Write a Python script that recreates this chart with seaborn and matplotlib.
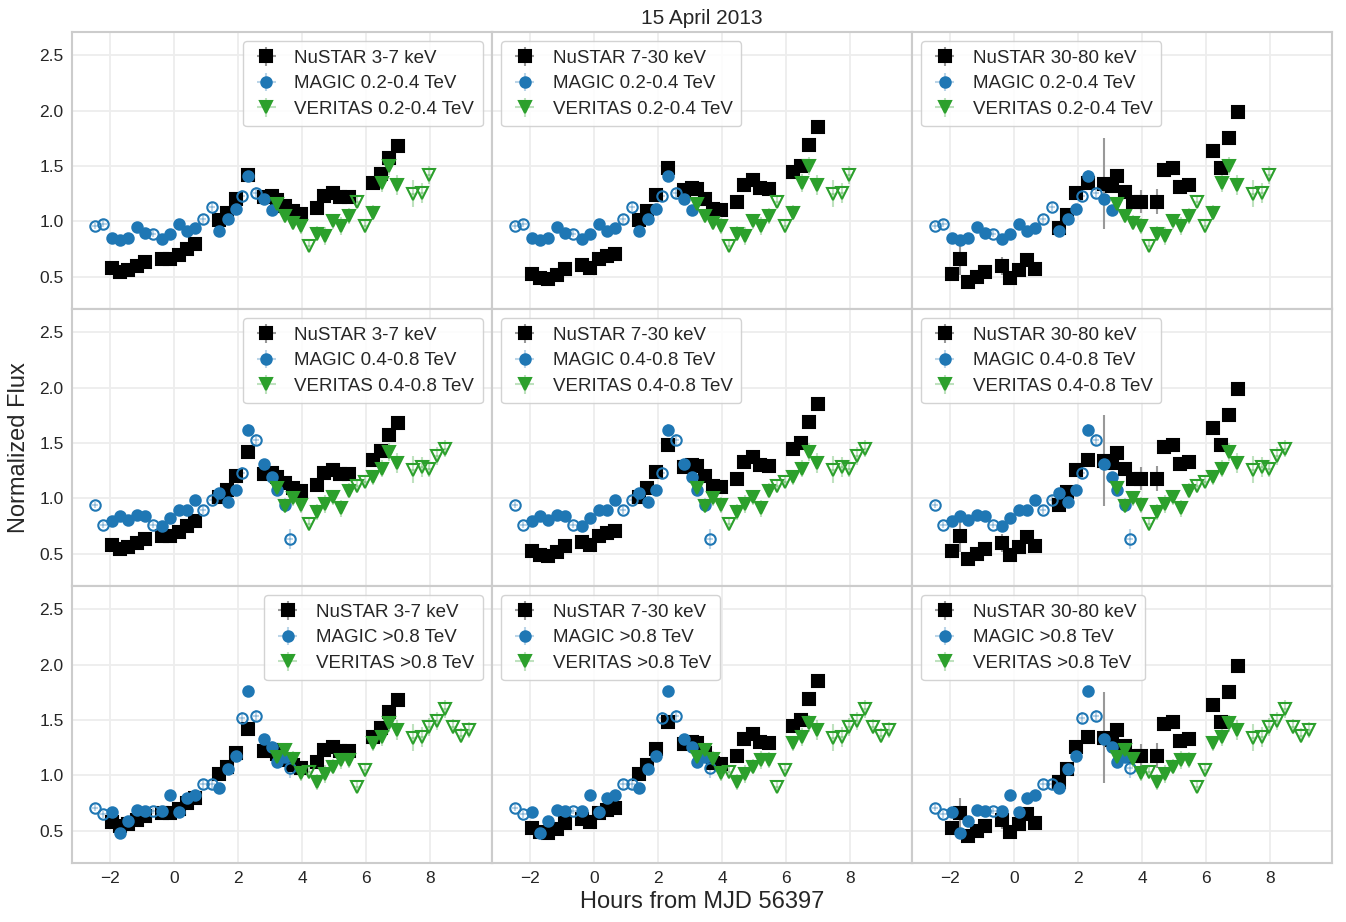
import matplotlib
matplotlib.use("Agg")
import matplotlib.pyplot as plt
import seaborn as sns
from matplotlib.colors import to_rgba

# ---- data (hours from MJD 56397, normalized flux) ----
nustar_t = [-1.95, -1.69, -1.43, -1.17, -0.91, -0.39, -0.13, 0.14, 0.40, 0.66,
            1.41, 1.67, 1.93, 2.32, 2.82, 3.05, 3.21, 3.47, 3.71, 3.97,
            4.46, 4.70, 4.98, 5.19, 5.48, 6.21, 6.47, 6.73, 6.99]
nustar_3_7 = [0.58, 0.54, 0.56, 0.60, 0.63, 0.66, 0.66, 0.70, 0.75, 0.80,
              1.01, 1.08, 1.20, 1.42, 1.22, 1.23, 1.19, 1.14, 1.09, 1.07,
              1.12, 1.23, 1.26, 1.22, 1.22, 1.35, 1.43, 1.57, 1.68]
nustar_7_30 = [0.53, 0.49, 0.48, 0.52, 0.57, 0.61, 0.58, 0.66, 0.69, 0.71,
               1.01, 1.09, 1.24, 1.48, 1.28, 1.30, 1.29, 1.20, 1.11, 1.10,
               1.18, 1.33, 1.37, 1.30, 1.29, 1.45, 1.50, 1.69, 1.85]
nustar_30_80 = [0.53, 0.66, 0.45, 0.50, 0.54, 0.60, 0.49, 0.56, 0.65, 0.57,
                0.94, 1.06, 1.26, 1.35, 1.34, 1.32, 1.41, 1.27, 1.18, 1.18,
                1.18, 1.46, 1.48, 1.31, 1.33, 1.64, 1.48, 1.75, 1.99]
nustar_err_3_7 = [0.02, 0.02, 0.02, 0.02, 0.02, 0.02, 0.02, 0.02, 0.02, 0.02,
                  0.02, 0.02, 0.02, 0.02, 0.02, 0.02, 0.02, 0.02, 0.02, 0.02,
                  0.02, 0.02, 0.02, 0.02, 0.02, 0.02, 0.02, 0.02, 0.02]
nustar_err_7_30 = [0.03, 0.03, 0.03, 0.03, 0.03, 0.03, 0.03, 0.03, 0.03, 0.03,
                   0.03, 0.03, 0.03, 0.03, 0.03, 0.03, 0.03, 0.03, 0.03, 0.03,
                   0.03, 0.03, 0.03, 0.03, 0.03, 0.03, 0.03, 0.03, 0.03]
nustar_err_30_80 = [0.06, 0.14, 0.06, 0.06, 0.06, 0.08, 0.06, 0.06, 0.06, 0.06,
                    0.05, 0.05, 0.05, 0.05, 0.41, 0.06, 0.06, 0.06, 0.06, 0.10,
                    0.11, 0.06, 0.05, 0.05, 0.05, 0.06, 0.06, 0.05, 0.04]

magic_t = [-2.47, -2.21, -1.95, -1.69, -1.43, -1.17, -0.91, -0.67, -0.39, -0.13,
           0.14, 0.40, 0.66, 0.90, 1.18, 1.42, 1.68, 1.93, 2.13, 2.32,
           2.57, 2.82, 3.07, 3.22, 3.47, 3.61]
magic_open = [1, 1, 0, 0, 0, 0, 0, 1, 0, 0,
              0, 0, 0, 1, 1, 0, 0, 0, 1, 0,
              1, 0, 0, 0, 0, 1]
magic_02_04 = [0.96, 0.98, 0.85, 0.83, 0.85, 0.95, 0.90, 0.89, 0.84, 0.89,
               0.98, 0.91, 0.94, 1.02, 1.13, 0.91, 1.02, 1.11, 1.23, 1.41,
               1.26, 1.20, 1.10]
magic_04_08 = [0.94, 0.76, 0.80, 0.84, 0.81, 0.85, 0.84, 0.76, 0.75, 0.82,
               0.90, 0.90, 0.99, 0.90, 0.99, 1.05, 0.97, 1.08, 1.23, 1.62,
               1.53, 1.31, 1.19, 1.08, 0.94, 0.63]
magic_08 = [0.71, 0.65, 0.67, 0.48, 0.59, 0.69, 0.68, 0.68, 0.68, 0.82,
            0.67, 0.80, 0.82, 0.92, 0.92, 0.89, 1.06, 1.18, 1.52, 1.76,
            1.54, 1.33, 1.26, 1.12, 1.17, 1.07]
magic_err = [0.03, 0.03, 0.03, 0.03, 0.03, 0.03, 0.03, 0.03, 0.03, 0.03,
             0.03, 0.03, 0.03, 0.04, 0.04, 0.03, 0.04, 0.04, 0.05, 0.05,
             0.05, 0.04, 0.05, 0.05, 0.06, 0.09]

veritas_t = [3.23, 3.47, 3.73, 3.97, 4.22, 4.48, 4.73, 4.98, 5.23, 5.48,
             5.73, 5.98, 6.23, 6.49, 6.73, 6.96, 7.48, 7.74, 7.98, 8.21,
             8.47, 8.73, 8.98, 9.23]
veritas_open = [0, 0, 0, 0, 1, 0, 0, 0, 0, 0,
                1, 1, 0, 0, 0, 0, 1, 1, 1, 1,
                1, 1, 1, 1]
veritas_02_04 = [1.16, 1.05, 0.99, 0.96, 0.78, 0.89, 0.87, 1.00, 0.96, 1.05,
                 1.18, 0.96, 1.08, 1.35, 1.50, 1.33, 1.25, 1.26, 1.42]
veritas_04_08 = [1.09, 0.93, 1.00, 0.94, 0.77, 0.88, 0.95, 1.01, 0.91, 1.07,
                 1.11, 1.15, 1.19, 1.27, 1.42, 1.32, 1.26, 1.28, 1.27, 1.38,
                 1.45]
veritas_08 = [1.17, 1.23, 1.15, 1.02, 1.03, 0.94, 1.01, 1.08, 1.14, 1.14,
              0.90, 1.05, 1.29, 1.35, 1.47, 1.41, 1.34, 1.35, 1.44, 1.49,
              1.60, 1.44, 1.36, 1.41]
veritas_err = [0.06, 0.06, 0.07, 0.07, 0.06, 0.07, 0.08, 0.07, 0.08, 0.07,
               0.06, 0.06, 0.07, 0.08, 0.08, 0.09, 0.12, 0.09, 0.08, 0.08,
               0.08, 0.07, 0.07, 0.07]

nustar_bands = ["3-7 keV", "7-30 keV", "30-80 keV"]
nustar_series = [nustar_3_7, nustar_7_30, nustar_30_80]
nustar_errs = [nustar_err_3_7, nustar_err_7_30, nustar_err_30_80]
tev_bands = ["0.2-0.4 TeV", "0.4-0.8 TeV", ">0.8 TeV"]
magic_series = [magic_02_04, magic_04_08, magic_08]
veritas_series = [veritas_02_04, veritas_04_08, veritas_08]

BLUE = "#1f77b4"
GREEN = "#2ca02c"

sns.set_theme(style="whitegrid")
plt.rcParams["font.family"] = ["Liberation Sans", "DejaVu Sans"]
plt.rcParams["axes.edgecolor"] = "0.8"
plt.rcParams["axes.linewidth"] = 1.5


def draw_set(ax, t, y, err, opened, color, ecolor, marker, ms, label):
    n = len(y)
    t, err, opened = t[:n], err[:n], opened[:n]
    groups = [(0, color, label), (1, "none", None)]
    for flag, face, lab in groups:
        idx = [i for i in range(n) if opened[i] == flag]
        if not idx:
            continue
        ax.errorbar([t[i] for i in idx], [y[i] for i in idx],
                    yerr=[err[i] for i in idx], xerr=0.1,
                    fmt=marker, ms=ms, color=color, mfc=face, mec=color,
                    mew=1.5, ecolor=ecolor, elinewidth=1.5, capsize=0,
                    label=lab)


fig, axes = plt.subplots(3, 3, figsize=(13.46, 9.22), dpi=100,
                         sharex=True, sharey=True)
fig.subplots_adjust(left=0.0535, right=0.9896, top=0.9653, bottom=0.064,
                    wspace=0, hspace=0)

for r in range(3):
    for c in range(3):
        ax = axes[r, c]
        draw_set(ax, nustar_t, nustar_series[c], nustar_errs[c],
                 [0] * len(nustar_t), "black", "0.6", "s", 8,
                 f"NuSTAR {nustar_bands[c]}")
        draw_set(ax, magic_t, magic_series[r], magic_err, magic_open,
                 BLUE, to_rgba(BLUE, 0.3), "o", 7.5, f"MAGIC {tev_bands[r]}")
        draw_set(ax, veritas_t, veritas_series[r], veritas_err, veritas_open,
                 GREEN, to_rgba(GREEN, 0.3), "v", 8, f"VERITAS {tev_bands[r]}")
        ax.set_xlim(-3.19, 9.94)
        ax.set_ylim(0.21, 2.71)
        ax.set_xticks([-2, 0, 2, 4, 6, 8])
        ax.set_yticks([0.5, 1.0, 1.5, 2.0, 2.5])
        ax.grid(True, color="0.93", linewidth=1.3)
        ax.tick_params(labelsize=12.5, colors="0.15", length=0, pad=6)
        ax.legend(loc="upper right" if c == 0 else "upper left",
                  fontsize=13.5, labelspacing=0.45, handlelength=1.6,
                  handletextpad=0.7, borderpad=0.45, framealpha=0.85,
                  edgecolor="0.8")

axes[0, 1].set_title("15 April 2013", fontsize=15, color="0.15", pad=6)
fig.text(0.5216, 0.01, "Hours from MJD 56397", ha="center", va="bottom",
         fontsize=17, color="0.15")
fig.text(0.006, 0.515, "Normalized Flux", ha="left", va="center",
         rotation=90, fontsize=17, color="0.15")

fig.savefig("out.png", dpi=100)
